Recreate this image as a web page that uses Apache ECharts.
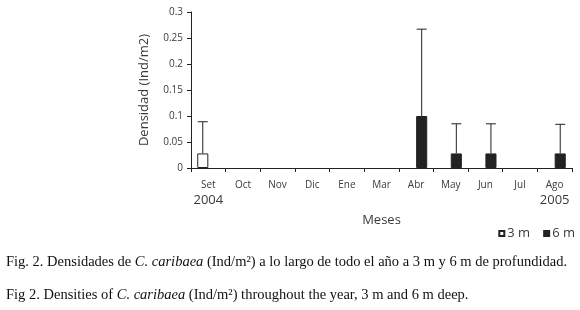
<!DOCTYPE html>
<html>
<head>
<meta charset="utf-8">
<script src="https://cdn.jsdelivr.net/npm/echarts@6/dist/echarts.min.js"></script>
<style>
  html, body { margin: 0; padding: 0; background: #fff; }
  #chart { width: 580px; height: 310px; }
</style>
</head>
<body>
<div id="chart"></div>
<script>
const months = ['Set', 'Oct', 'Nov', 'Dic', 'Ene', 'Mar', 'Abr', 'May', 'Jun', 'Jul', 'Ago']
const years = { 0: '2004', 10: '2005' }
const dens3m = [0.028, 0, 0, 0, 0, 0, 0, 0, 0, 0, 0]
const dens6m = [0, 0, 0, 0, 0, 0, 0.1, 0.028, 0.028, 0, 0.028]
// upper end of the error bars (mean + sd)
const top3m = [0.089, null, null, null, null, null, null, null, null, null, null]
const top6m = [null, null, null, null, null, null, 0.267, 0.085, 0.085, null, 0.084]
const yTicks = { min: 0, max: 0.3, step: 0.05 }

const INK = '#222'
const TEXT = '#3a3a3a'
const FONT = '"Open Sans", "Noto Sans", sans-serif'
const SERIF = '"Liberation Serif", serif'

function errData(means, tops) {
  const out = []
  tops.forEach((t, i) => { if (t != null) out.push([i, t, means[i]]) })
  return out
}

// zero bars would otherwise show their border on the axis
function barData(values) {
  return values.map(v => v ? v : { value: v, itemStyle: { borderWidth: 0 } })
}

function errSeries(name, data, shift) {
  return {
    name: name + ' err',
    type: 'custom',
    data,
    z: 5,
    silent: true,
    renderItem: (params, api) => {
      const band = api.size([1, 0])[0]
      const hi = api.coord([api.value(0), api.value(1)])
      const lo = api.coord([api.value(0), api.value(2)])
      const x = hi[0] + shift * band
      const style = { stroke: INK, lineWidth: 1 }
      return {
        type: 'group',
        children: [
          { type: 'line', shape: { x1: x, y1: lo[1], x2: x, y2: hi[1] }, style },
          { type: 'line', shape: { x1: x - 5, y1: hi[1], x2: x + 5, y2: hi[1] }, style },
        ],
      }
    },
  }
}

const chart = echarts.init(document.getElementById('chart'), null, { renderer: 'canvas' })

const caption = (text, top) => ({
  type: 'text',
  left: 6,
  top,
  style: {
    text,
    fontFamily: SERIF,
    fontSize: 14.5,
    fill: '#111',
    rich: { i: { fontFamily: SERIF, fontSize: 14.5, fontStyle: 'italic', fill: '#111' } },
  },
})

chart.setOption({
  animation: false,
  backgroundColor: '#fff',
  textStyle: { fontFamily: FONT, color: TEXT },
  grid: { left: 191, right: 8, top: 12, bottom: 142, containLabel: false },
  legend: {
    right: 0,
    top: 222,
    itemWidth: 5,
    itemHeight: 5,
    itemGap: 13,
    icon: 'rect',
    data: ['3 m', '6 m'],
    textStyle: { fontFamily: FONT, fontSize: 13, color: TEXT, padding: [0, 0, 0, -2] },
  },
  xAxis: {
    type: 'category',
    data: months,
    name: 'Meses',
    nameLocation: 'middle',
    nameGap: 46,
    nameTextStyle: { fontFamily: FONT, fontSize: 13, color: TEXT },
    axisLine: { lineStyle: { color: INK, width: 1 } },
    axisTick: { show: true, length: 4, lineStyle: { color: INK } },
    axisLabel: {
      margin: 10,
      interval: 0,
      color: TEXT,
      formatter: (v, i) => years[i] ? '{m|' + v + '}\n{y|' + years[i] + '}' : '{m|' + v + '}',
      rich: {
        m: { fontFamily: FONT, fontSize: 10, color: TEXT, lineHeight: 14 },
        y: { fontFamily: FONT, fontSize: 13, color: TEXT, lineHeight: 17 },
      },
    },
  },
  yAxis: {
    type: 'value',
    min: yTicks.min,
    max: yTicks.max,
    interval: yTicks.step,
    name: 'Densidad (Ind/m2)',
    nameLocation: 'middle',
    nameGap: 40,
    nameTextStyle: { fontFamily: FONT, fontSize: 13, color: TEXT },
    axisLine: { show: true, lineStyle: { color: INK, width: 1 } },
    axisTick: { show: true, length: 4, lineStyle: { color: INK } },
    axisLabel: { fontFamily: FONT, fontSize: 10, color: TEXT, margin: 8 },
    splitLine: { show: false },
  },
  series: [
    {
      name: '3 m',
      type: 'bar',
      data: barData(dens3m),
      barGap: '0%',
      barCategoryGap: '36%',
      itemStyle: { color: '#fff', borderColor: INK, borderWidth: 1 },
    },
    {
      name: '6 m',
      type: 'bar',
      data: barData(dens6m),
      barGap: '0%',
      barCategoryGap: '36%',
      itemStyle: { color: INK, borderColor: INK, borderWidth: 1 },
    },
    errSeries('3 m', errData(dens3m, top3m), -0.16),
    errSeries('6 m', errData(dens6m, top6m), 0.16),
  ],
  graphic: [
    caption('Fig. 2. Densidades de {i|C. caribaea} (Ind/m²) a lo largo de todo el año a 3 m y 6 m de profundidad.', 255),
    caption('Fig 2. Densities of {i|C. caribaea} (Ind/m²) throughout the year, 3 m and 6 m deep.', 288),
  ],
})
</script>
</body>
</html>
